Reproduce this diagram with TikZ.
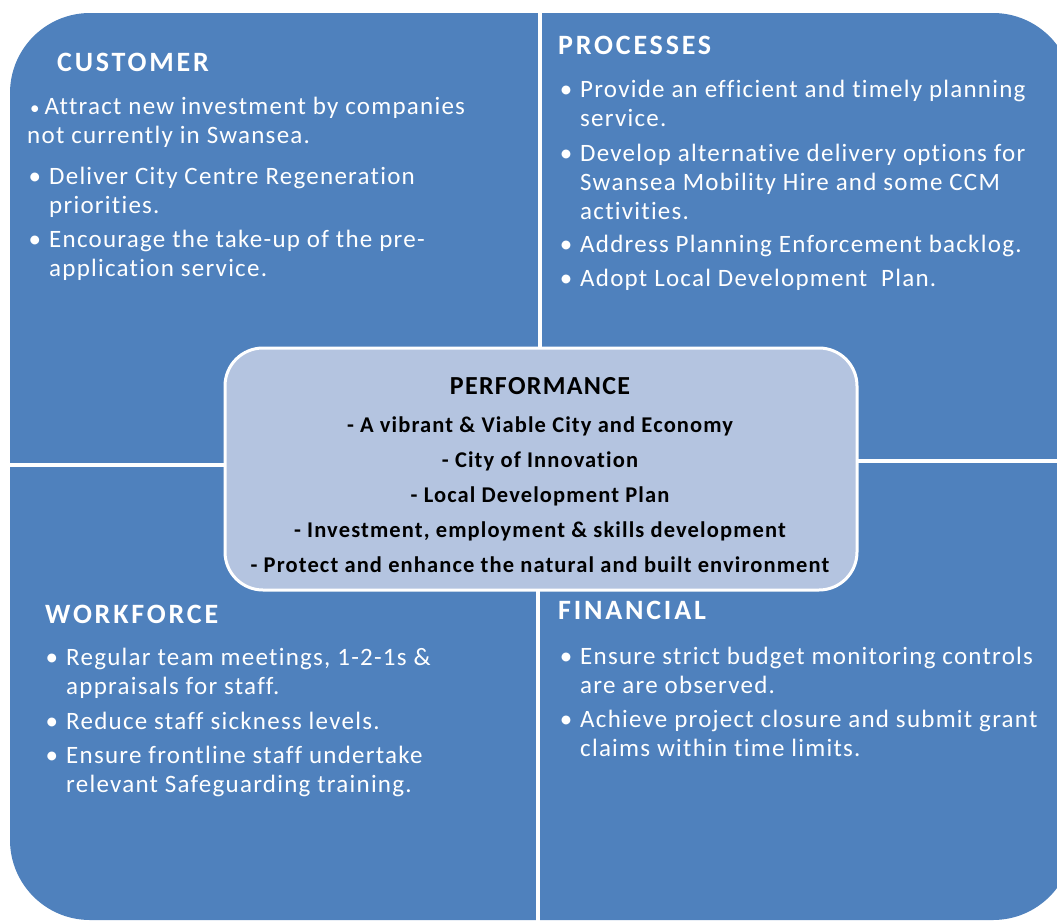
\documentclass[tikz,border=0pt]{standalone}
\usepackage{fontspec}
\setmainfont{Carlito}[LetterSpace=5,Ligatures=NoCommon]
\newfontfamily\headfont{Carlito}[LetterSpace=10,Ligatures=NoCommon]
\usetikzlibrary{positioning}
\definecolor{quadblue}{RGB}{79,129,189}
\definecolor{perfblue}{RGB}{180,196,224}

\begin{document}
\begin{tikzpicture}[x=1pt,y=-1pt]
\tikzstyle{head} = [anchor=west,inner sep=0pt,text=white,font=\headfont\fontsize{28}{30}\selectfont\bfseries]
\tikzstyle{item} = [anchor=north west,inner sep=0pt,text=white,align=left,font=\fontsize{25}{29}\selectfont]
\tikzstyle{divider} = [white,line width=4pt]
\tikzstyle{perfbox} = [fill=perfblue,draw=white,line width=3pt,rounded corners=38pt,minimum width=632pt,minimum height=242pt]
\tikzstyle{perftext} = [anchor=north,inner sep=0pt,align=center,font=\fontsize{22.5}{35}\selectfont\bfseries]
\newcommand{\bul}{\llap{\textbullet\hspace{8pt}}}

\useasboundingbox (0,0) rectangle (1057,921);
\clip (0,0) rectangle (1057,921);

% the four quadrants
\fill[quadblue,rounded corners=80pt] (10,13) rectangle (1073,920);
\draw[divider] (540,0) -- (540,469);
\draw[divider] (538,469) -- (538,921);
\draw[divider] (0,465) -- (541,465);
\draw[divider] (541,461) -- (1057,461);

% customer
\node[head] (customer) at (57,62) {CUSTOMER};
\node[item] (cust1) at (27,97) {\hspace{3pt}{\fontsize{19}{19}\selectfont\textbullet}\hspace{5pt}Attract new investment by companies\\not currently in Swansea.};
\node[item] (cust2) at (49,167) {\bul Deliver City Centre Regeneration\\priorities.};
\node[item] (cust3) at (49,230) {\bul Encourage the take-up of the pre-\\application service.};

% processes
\node[head] (processes) at (558,45) {PROCESSES};
\node[item] (proc1) at (580,80) {\bul Provide an efficient and timely planning\\service.};
\node[item] (proc2) at (580,144) {\bul Develop alternative delivery options for\\Swansea Mobility Hire and some CCM\\activities.};
\node[item] (proc3) at (580,235) {\bul Address Planning Enforcement backlog.};
\node[item] (proc4) at (580,269) {\bul Adopt Local Development\ \ Plan.};

% workforce
\node[head] (workforce) at (45,614) {WORKFORCE};
\node[item] (work1) at (66,648) {\bul Regular team meetings, 1-2-1s \&\\appraisals for staff.};
\node[item] (work2) at (66,712) {\bul Reduce staff sickness levels.};
\node[item] (work3) at (66,746) {\bul Ensure frontline staff undertake\\relevant Safeguarding training.};

% financial
\node[head] (financial) at (558,610) {FINANCIAL};
\node[item] (fin1) at (580,647) {\bul Ensure strict budget monitoring controls\\are are observed.};
\node[item] (fin2) at (580,710) {\bul Achieve project closure and submit grant\\claims within time limits.};

% performance in the middle
\node[perfbox] (perf) at (541,469) {};
\node[perftext] (perfitems) at (540,377) {{\fontsize{26}{35}\selectfont PERFORMANCE}\\[3pt]
- A vibrant \& Viable City and Economy\\
- City of Innovation\\
- Local Development Plan\\
- Investment, employment \& skills development\\
- Protect and enhance the natural and built environment};
\end{tikzpicture}
\end{document}
